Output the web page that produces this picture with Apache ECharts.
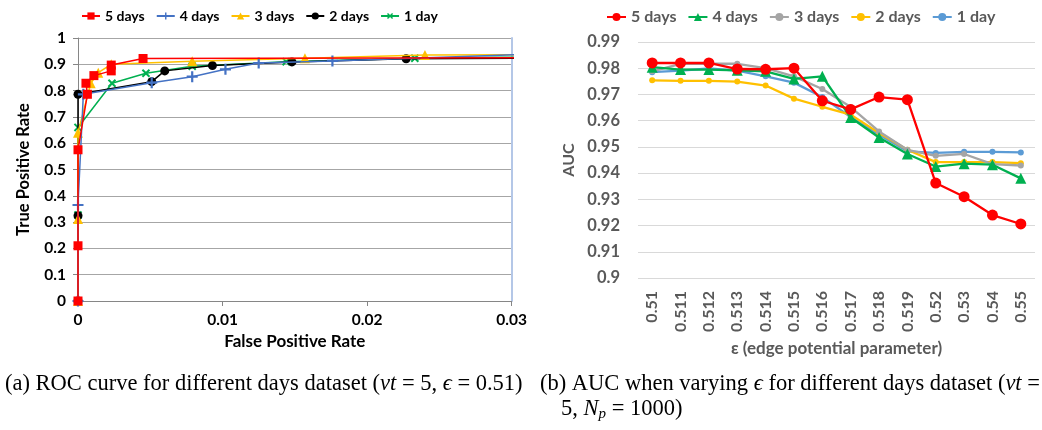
<!DOCTYPE html>
<html><head><meta charset="utf-8">
<script src="https://cdn.jsdelivr.net/npm/echarts@6/dist/echarts.min.js"></script>
<style>
html,body{margin:0;padding:0;background:#fff;}
#c1{position:absolute;left:0;top:0;width:530px;height:430px;}
#c2{position:absolute;left:530px;top:0;width:512px;height:430px;}
</style></head>
<body>
<div id="c1"></div><div id="c2"></div>
<script>
// ---------- Left chart: ROC curves ([FPR, TPR]) ----------
const rocNames = ['5 days', '4 days', '3 days', '2 days', '1 day'];
const roc5 = [[0,0],[0,0.21],[0,0.575],[0.00065,0.786],[0.00055,0.828],[0.0011,0.857],[0.0023,0.875],[0.0023,0.897],[0.0045,0.922],[0.05,0.927]];
const roc4 = [[0,0],[0,0.365],[0.00037,0.786],[0.0051,0.83],[0.0079,0.853],[0.0102,0.881],[0.0125,0.905],[0.0176,0.913],[0.032,0.94]];
const roc3 = [[0,0],[0,0.312],[0,0.64],[0.00088,0.828],[0.0014,0.868],[0.0023,0.9],[0.0079,0.912],[0.0157,0.923],[0.024,0.935],[0.05,0.94]];
const roc2 = [[0,0],[0,0.324],[0,0.786],[0.0051,0.834],[0.006,0.875],[0.0093,0.895],[0.0148,0.909],[0.0227,0.921],[0.05,0.93]];
const roc1 = [[0,0],[0,0.327],[0,0.66],[0.00235,0.828],[0.0047,0.866],[0.0079,0.893],[0.0144,0.91],[0.0233,0.923],[0.05,0.94]];

// ---------- Right chart: AUC vs epsilon ----------
const epsCats = ['0.51','0.511','0.512','0.513','0.514','0.515','0.516','0.517','0.518','0.519','0.52','0.53','0.54','0.55'];
const auc5 = [0.982,0.982,0.982,0.9797,0.9796,0.980,0.9676,0.9643,0.969,0.968,0.9362,0.931,0.924,0.9206];
const auc4 = [0.9804,0.9795,0.9795,0.9792,0.9788,0.9759,0.9769,0.9612,0.9536,0.9473,0.9425,0.9436,0.9432,0.938];
const auc3 = [0.9788,0.9817,0.9817,0.9817,0.980,0.9769,0.9721,0.9652,0.9559,0.9489,0.9466,0.9473,0.9434,0.9429];
const auc2 = [0.9754,0.9752,0.9752,0.9749,0.9734,0.9684,0.9653,0.9623,0.9553,0.9489,0.9442,0.9442,0.9442,0.9438];
const auc1 = [0.9785,0.9791,0.9799,0.9791,0.9769,0.9745,0.969,0.9614,0.9546,0.9483,0.9477,0.9481,0.9481,0.9479];

const FONT = 'Lato';
const SERIF = 'Liberation Serif';
const CAP = 22.5;
const fmt = v => String(+(+v).toFixed(3));

// ---------- Chart 1 ----------
const c1 = echarts.init(document.getElementById('c1'));
const rocColors = ['#ff0000','#4472c4','#ffc000','#000000','#00b050'];
const plusPath = 'path://M4,0H6V4H10V6H6V10H4V6H0V4H4Z';
const rocSymbols = ['rect', plusPath, 'triangle', 'circle', plusPath];
const rocSizes = [9, 11, 10, 9, 10];
const rocRot = [0, 0, 0, 0, 45];
const rocData = [roc5, roc4, roc3, roc2, roc1];
c1.setOption({
  animation: false,
  textStyle: {fontFamily: FONT},
  legend: {
    left: 76, top: 4, itemWidth: 18, itemHeight: 9, itemGap: 11,
    textStyle: {fontFamily: FONT, fontWeight: 'bold', fontSize: 14, color: '#000'},
    data: rocNames
  },
  grid: {left: 78, right: 18, top: 38, bottom: 129},
  xAxis: {
    type: 'value', min: 0, max: 0.03, interval: 0.01,
    name: 'False Positive Rate', nameLocation: 'middle', nameGap: 31,
    nameTextStyle: {fontFamily: FONT, fontWeight: 'bold', fontSize: 17, color: '#000'},
    axisLine: {show: true, lineStyle: {color: '#868686', width: 1}},
    axisTick: {show: true, length: 5, lineStyle: {color: '#868686'}},
    axisLabel: {margin: 11, fontFamily: FONT, fontWeight: 'bold', fontSize: 15.5, color: '#000', formatter: fmt},
    splitLine: {show: false}
  },
  yAxis: [{
    type: 'value', min: 0, max: 1, interval: 0.1,
    name: 'True Positive Rate', nameLocation: 'middle', nameGap: 46,
    nameTextStyle: {fontFamily: FONT, fontWeight: 'bold', fontSize: 16.5, color: '#000'},
    axisLine: {show: true, lineStyle: {color: '#868686', width: 1}},
    axisTick: {show: true, length: 5, lineStyle: {color: '#868686'}},
    axisLabel: {margin: 12, fontFamily: FONT, fontWeight: 'bold', fontSize: 15.5, color: '#000', formatter: fmt},
    splitLine: {show: true, lineStyle: {color: '#a6a6a6', width: 1}}
  }, {
    type: 'value', min: 0, max: 1, position: 'right',
    axisLine: {show: true, lineStyle: {color: '#b4c7e7', width: 2}},
    axisTick: {show: false}, axisLabel: {show: false}, splitLine: {show: false}
  }],
  series: rocNames.map((n, i) => ({
    name: n, type: 'line', data: rocData[i], clip: true,
    symbol: rocSymbols[i], symbolSize: rocSizes[i], symbolRotate: rocRot[i],
    showAllSymbol: true,
    lineStyle: {color: rocColors[i], width: 1.5},
    itemStyle: {color: rocColors[i]},
    z: 10 - i
  })),
  graphic: [{
    type: 'text', left: 5, top: 373,
    style: {
      text: '(a) ROC curve for different days dataset ({i|vt} = 5, {i|ϵ} = 0.51)',
      font: CAP + 'px "' + SERIF + '"', fill: '#000',
      rich: {i: {fontFamily: SERIF, fontSize: CAP, fontStyle: 'italic'}}
    }
  }]
});

// ---------- Chart 2 ----------
const c2 = echarts.init(document.getElementById('c2'));
const aucNames = ['5 days', '4 days', '3 days', '2 days', '1 day'];
const aucColors = ['#ff0000','#00b050','#a5a5a5','#ffc000','#5b9bd5'];
const aucSymbols = ['circle','triangle','circle','circle','circle'];
const aucSizes = [11, 11, 6, 6, 6];
const aucData = [auc5, auc4, auc3, auc2, auc1];
c2.setOption({
  animation: false,
  textStyle: {fontFamily: FONT},
  legend: {
    left: 71, top: 4, width: 430, itemWidth: 19, itemHeight: 10, itemGap: 11,
    textStyle: {fontFamily: FONT, fontWeight: 'bold', fontSize: 16, color: '#595959'},
    data: aucNames
  },
  grid: {left: 108, right: 7, top: 42, bottom: 152},
  xAxis: {
    type: 'category', data: epsCats, boundaryGap: true,
    name: 'ε (edge potential parameter)', nameLocation: 'middle', nameGap: 60,
    nameTextStyle: {fontFamily: FONT, fontWeight: 'bold', fontSize: 17, color: '#595959'},
    axisLine: {show: false}, axisTick: {show: false},
    axisLabel: {rotate: 90, margin: 13, interval: 0, fontFamily: FONT, fontWeight: 'bold', fontSize: 16, color: '#595959'}
  },
  yAxis: {
    type: 'value', min: 0.9, max: 0.99, interval: 0.01,
    name: 'AUC', nameLocation: 'middle', nameGap: 60,
    nameTextStyle: {fontFamily: FONT, fontWeight: 'bold', fontSize: 16, color: '#595959'},
    axisLine: {show: false}, axisTick: {show: false},
    axisLabel: {margin: 18, fontFamily: FONT, fontWeight: 'bold', fontSize: 16.5, color: '#595959', formatter: fmt},
    splitLine: {show: true, lineStyle: {color: '#d9d9d9', width: 1}}
  },
  series: aucNames.map((n, i) => ({
    name: n, type: 'line', data: aucData[i],
    symbol: aucSymbols[i], symbolSize: aucSizes[i], showAllSymbol: true,
    lineStyle: {color: aucColors[i], width: 2.3},
    itemStyle: {color: aucColors[i]},
    z: 10 - i
  })),
  graphic: [{
    type: 'text', left: 10, top: 373,
    style: {
      text: '(b) AUC when varying {i|ϵ} for different days dataset ({i|vt} =',
      font: CAP + 'px "' + SERIF + '"', fill: '#000',
      rich: {i: {fontFamily: SERIF, fontSize: CAP, fontStyle: 'italic'}}
    }
  }, {
    type: 'text', left: 31, top: 398,
    style: {
      text: '5, {i|N}{s|p} = 1000)',
      font: CAP + 'px "' + SERIF + '"', fill: '#000',
      rich: {i: {fontFamily: SERIF, fontSize: CAP, fontStyle: 'italic'},
             s: {fontFamily: SERIF, fontSize: 15, fontStyle: 'italic', padding: [9, 0, 0, 0]}}
    }
  }]
});
</script>
</body></html>
